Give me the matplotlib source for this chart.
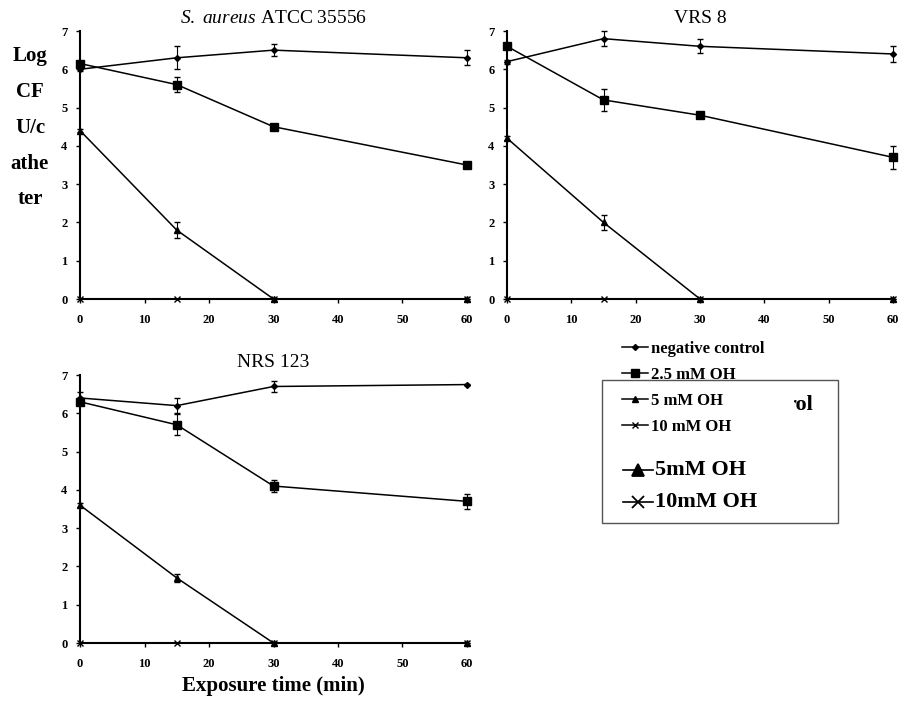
import matplotlib.pyplot as plt
from matplotlib.lines import Line2D
from matplotlib.patches import Rectangle

plt.rcParams['font.family'] = ['Liberation Serif', 'DejaVu Serif']
plt.rcParams['mathtext.fontset'] = 'custom'
plt.rcParams['mathtext.it'] = 'Liberation Serif:italic'
plt.rcParams['mathtext.rm'] = 'Liberation Serif'

# exposure times (min)
times = [0, 15, 30, 60]
series_names = ["negative control", "2.5 mM OH", "5 mM OH", "10 mM OH"]
series_markers = ["D", "s", "^", "x"]
series_sizes = [3, 6, 5, 5]

# S. aureus ATCC 35556
atcc_neg = [6.0, 6.3, 6.5, 6.3]
atcc_neg_err = [0.05, 0.3, 0.15, 0.2]
atcc_25 = [6.15, 5.6, 4.5, 3.5]
atcc_25_err = [0.05, 0.2, 0.08, 0.05]
atcc_5 = [4.4, 1.8, 0, 0]
atcc_5_err = [0.05, 0.2, 0, 0]
atcc_10 = [0, 0, 0, 0]

# VRS 8
vrs_neg = [6.2, 6.8, 6.6, 6.4]
vrs_neg_err = [0.05, 0.2, 0.18, 0.2]
vrs_25 = [6.6, 5.2, 4.8, 3.7]
vrs_25_err = [0.05, 0.28, 0.08, 0.3]
vrs_5 = [4.2, 2.0, 0, 0]
vrs_5_err = [0.05, 0.2, 0, 0]
vrs_10 = [0, 0, 0, 0]

# NRS 123
nrs_neg = [6.4, 6.2, 6.7, 6.75]
nrs_neg_err = [0.15, 0.2, 0.15, 0.02]
nrs_25 = [6.3, 5.7, 4.1, 3.7]
nrs_25_err = [0.05, 0.28, 0.15, 0.2]
nrs_5 = [3.6, 1.7, 0, 0]
nrs_5_err = [0.05, 0.1, 0, 0]
nrs_10 = [0, 0, 0, 0]

W, H = 902, 701
fig = plt.figure(figsize=(W / 100, H / 100), dpi=100)


def px_axes(x0, x1, y_top, y_bot):
    return [x0 / W, 1 - y_bot / H, (x1 - x0) / W, (y_bot - y_top) / H]


def draw_panel(ax, title, panel_series):
    for (vals, errs), name, mk, ms in zip(panel_series, series_names,
                                          series_markers, series_sizes):
        h = ax.errorbar(times, vals, yerr=errs, color="black", lw=1.1,
                        marker=mk, ms=ms, mew=1.0, elinewidth=0.8,
                        capsize=2, capthick=0.8, clip_on=False,
                        label=name, zorder=3)
        h.lines[0].set_clip_on(False)
    ax.set_xlim(0, 60)
    ax.set_ylim(0, 7)
    ax.set_xticks([0, 10, 20, 30, 40, 50, 60])
    ax.set_yticks(range(8))
    ax.spines["top"].set_visible(False)
    ax.spines["right"].set_visible(False)
    for s in ("left", "bottom"):
        ax.spines[s].set_linewidth(1.5)
    ax.tick_params(axis="x", direction="out", length=3, width=1, pad=8)
    ax.tick_params(axis="y", direction="out", length=3, width=1, pad=6)
    for lab in ax.get_xticklabels() + ax.get_yticklabels():
        lab.set_fontweight("bold")
        lab.set_fontsize(9)
    ax.set_title(title, fontsize=14, pad=6)


ax1 = fig.add_axes(px_axes(80, 467, 31, 299))
ax2 = fig.add_axes(px_axes(507, 893, 31, 299))
ax3 = fig.add_axes(px_axes(80, 467, 375, 643))

draw_panel(ax1, r"$\it{S.\ aureus}$ ATCC 35556",
           [(atcc_neg, atcc_neg_err), (atcc_25, atcc_25_err),
            (atcc_5, atcc_5_err), (atcc_10, None)])
draw_panel(ax2, "VRS 8",
           [(vrs_neg, vrs_neg_err), (vrs_25, vrs_25_err),
            (vrs_5, vrs_5_err), (vrs_10, None)])
draw_panel(ax3, "NRS 123",
           [(nrs_neg, nrs_neg_err), (nrs_25, nrs_25_err),
            (nrs_5, nrs_5_err), (nrs_10, None)])

ax3.set_xlabel("Exposure time (min)", fontsize=15, fontweight="bold", labelpad=4)

# stacked y label
fig.text(30 / W, 1 - 128 / H, "Log\nCF\nU/c\nathe\nter", ha="center",
         va="center", fontsize=15, fontweight="bold", linespacing=2.05)

# old legend box left behind the newer one
fig.add_artist(Rectangle((602 / W, 1 - 523 / H), 236 / W, 143 / H,
                         transform=fig.transFigure, fill=False,
                         edgecolor="#555555", lw=1, zorder=7))
fig.text(786 / W, 1 - 405 / H, "rol", fontsize=16, fontweight="bold",
         va="center")
for y, mk, txt in [(470, "^", "5mM OH"), (502, "x", "10mM OH")]:
    fig.add_artist(Line2D([623 / W, 653 / W], [1 - y / H, 1 - y / H],
                          transform=fig.transFigure, color="black", lw=1.2))
    fig.add_artist(Line2D([638 / W], [1 - y / H], transform=fig.transFigure,
                          color="black", marker=mk, ms=8, mew=1.3))
    fig.text(655 / W, 1 - y / H, txt, fontsize=16, fontweight="bold",
             va="center")

# white patch and the overlying legend
fig.add_artist(Rectangle((598 / W, 1 - 444 / H), 196 / W, 116 / H,
                         transform=fig.transFigure, facecolor="white",
                         edgecolor="none", zorder=5))
proxies = [Line2D([], [], color="black", lw=1.1, marker=mk, ms=ms)
           for mk, ms in zip(series_markers, series_sizes)]
leg = fig.legend(proxies, series_names, loc="upper left",
                 bbox_to_anchor=(610 / W, 1 - 329 / H), frameon=False,
                 handlelength=1.6, handletextpad=0.15, labelspacing=0.6,
                 borderpad=0.2, prop={"weight": "bold", "size": 12})
leg.set_zorder(6)

fig.savefig("out.png", dpi=100)
